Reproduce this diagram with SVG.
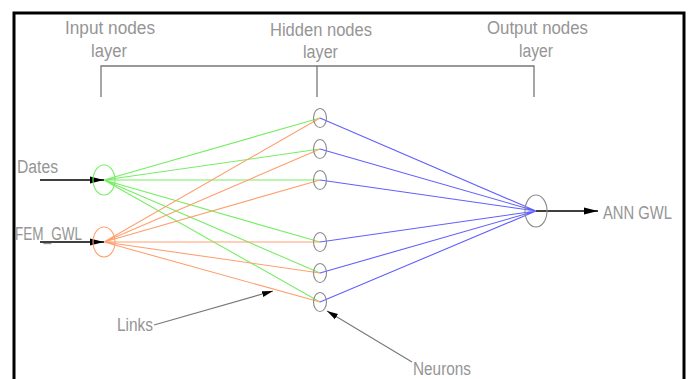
<svg xmlns="http://www.w3.org/2000/svg" width="688" height="379" viewBox="0 0 688 379">
<style>
text{font-family:"Liberation Sans",Arial,sans-serif;font-size:18px;fill:#959595}
.frame{fill:none;stroke:#000;stroke-width:3}
.br{fill:none;stroke:#777;stroke-width:1.3}
.g{stroke:#77ee66;stroke-width:1.1}
.o{stroke:#ffa070;stroke-width:1.1}
.b{stroke:#6060ff;stroke-width:1.1}
.node{fill:none;stroke:#8a8a8a;stroke-width:1.1}
.arr{stroke:#000;stroke-width:1.3;fill:none}
.lead{stroke:#777;stroke-width:1.1;fill:none}
</style>
<defs>
<marker id="ah" markerUnits="userSpaceOnUse" markerWidth="16" markerHeight="10" refX="14" refY="4" orient="auto"><path d="M0,0.5 L14,4 L0,7.5 z" fill="#000"/></marker>
<marker id="ahs" markerUnits="userSpaceOnUse" markerWidth="12" markerHeight="8" refX="11" refY="3.5" orient="auto"><path d="M0,0.5 L11,3.5 L0,6.5 z" fill="#000"/></marker>
</defs>
<rect width="688" height="379" fill="#fff"/>
<path class="frame" d="M14,379 V13 H684 V379"/>
<g id="bracket">
<path class="br" d="M101,97 V66 H534 V97 M317,66 V97"/>
</g>
<g id="labels">
<text x="65" y="34" textLength="90" lengthAdjust="spacingAndGlyphs">Input nodes</text>
<text x="91" y="57" textLength="36" lengthAdjust="spacingAndGlyphs">layer</text>
<text x="270" y="36" textLength="102" lengthAdjust="spacingAndGlyphs">Hidden nodes</text>
<text x="303" y="58" textLength="35" lengthAdjust="spacingAndGlyphs">layer</text>
<text x="487" y="34" textLength="101" lengthAdjust="spacingAndGlyphs">Output nodes</text>
<text x="519" y="57" textLength="34" lengthAdjust="spacingAndGlyphs">layer</text>
</g>
<g id="connectors">
<path class="g" d="M104,180 L320,118 M104,180 L320,149 M104,180 L320,180 M104,180 L320,242 M104,180 L320,273 M104,180 L320,302"/>
<path class="o" d="M104,242 L320,118 M104,242 L320,149 M104,242 L320,180 M104,242 L320,242 M104,242 L320,273 M104,242 L320,302"/>
<path class="b" d="M320,118 L536,211 M320,149 L536,211 M320,180 L536,211 M320,242 L536,211 M320,273 L536,211 M320,302 L536,211"/>
<path class="arr" d="M40,180 H104" marker-end="url(#ah)"/>
<path class="arr" d="M40,242 H104" marker-end="url(#ah)"/>
<path class="arr" d="M536,211 H598" marker-end="url(#ah)"/>
<path class="lead" d="M154,325 L273,291" marker-end="url(#ahs)"/>
<path class="lead" d="M412,362 L327,311" marker-end="url(#ahs)"/>
</g>
<g id="in-dates"><ellipse class="node" style="stroke:#77ee66" cx="104" cy="180" rx="11" ry="15"/><text x="17" y="173" textLength="41" lengthAdjust="spacingAndGlyphs">Dates</text></g>
<g id="in-fem"><ellipse class="node" style="stroke:#ffa070" cx="104" cy="242" rx="11" ry="15"/><text x="15" y="240" textLength="67" lengthAdjust="spacingAndGlyphs">FEM_GWL</text></g>
<g id="h1"><ellipse class="node" cx="320" cy="118" rx="6.5" ry="9.5"/></g>
<g id="h2"><ellipse class="node" cx="320" cy="149" rx="6.5" ry="9.5"/></g>
<g id="h3"><ellipse class="node" cx="320" cy="180" rx="6.5" ry="9.5"/></g>
<g id="h4"><ellipse class="node" cx="320" cy="242" rx="6.5" ry="9.5"/></g>
<g id="h5"><ellipse class="node" cx="320" cy="273" rx="6.5" ry="9.5"/></g>
<g id="h6"><ellipse class="node" cx="320" cy="302" rx="6.5" ry="9.5"/></g>
<g id="out"><ellipse class="node" cx="536" cy="211" rx="11" ry="16"/><text x="603" y="219" textLength="69" lengthAdjust="spacingAndGlyphs">ANN GWL</text></g>
<g id="links"><text x="117" y="331" textLength="36" lengthAdjust="spacingAndGlyphs">Links</text></g>
<g id="neurons"><text x="413" y="375" textLength="58" lengthAdjust="spacingAndGlyphs">Neurons</text></g>
</svg>
